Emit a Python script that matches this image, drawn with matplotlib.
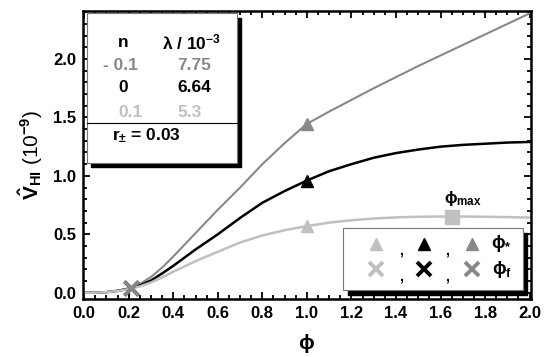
import matplotlib
matplotlib.use("Agg")
import matplotlib.pyplot as plt
from matplotlib.patches import Rectangle
from matplotlib.ticker import MultipleLocator

plt.rcParams['font.family'] = ['Liberation Sans', 'DejaVu Sans']
plt.rcParams['font.weight'] = 'bold'
plt.rcParams['mathtext.fontset'] = 'custom'
plt.rcParams['mathtext.rm'] = 'Liberation Sans:bold'
plt.rcParams['mathtext.bf'] = 'Liberation Sans:bold'
plt.rcParams['mathtext.it'] = 'Liberation Sans:bold'

# curves (phi, V_HI in 1e-9)
phi = [0.0, 0.05, 0.1, 0.15, 0.2, 0.25, 0.3, 0.35, 0.4, 0.5, 0.6, 0.7, 0.8, 0.9, 1.0,
       1.1, 1.2, 1.3, 1.4, 1.5, 1.6, 1.7, 1.8, 1.9, 2.0]
v_neg = [0.0, 0.0, 0.006, 0.018, 0.038, 0.075, 0.135, 0.215, 0.31, 0.51, 0.71, 0.90, 1.10, 1.28, 1.445,
         1.55, 1.65, 1.75, 1.845, 1.94, 2.03, 2.12, 2.21, 2.30, 2.39]
v_zero = [0.0, 0.0, 0.005, 0.016, 0.034, 0.062, 0.105, 0.165, 0.23, 0.37, 0.50, 0.64, 0.77, 0.87, 0.96,
          1.04, 1.10, 1.155, 1.195, 1.225, 1.25, 1.265, 1.275, 1.285, 1.29]
v_pos = [0.0, 0.0, 0.005, 0.015, 0.031, 0.054, 0.088, 0.13, 0.18, 0.27, 0.35, 0.43, 0.49, 0.535, 0.57,
         0.60, 0.62, 0.635, 0.645, 0.65, 0.652, 0.652, 0.65, 0.647, 0.643]

phi_star = 1.0
star_vals = [1.445, 0.96, 0.575]
phi_f = 0.21
f_vals = [0.04, 0.04, 0.04]
phi_max = 1.65
v_max = 0.645

n_vals = ['- 0.1', '0', '0.1']
lam_vals = ['7.75', '6.64', '5.3']
colors = ['#888888', '#000000', '#c0c0c0']

fig = plt.figure(figsize=(5.5, 3.57), dpi=100)
ax = fig.add_axes([0.151, 0.162, 0.814, 0.807])

for v, c, w in zip([v_neg, v_zero, v_pos], colors, [1.5, 1.8, 1.8]):
    ax.plot(phi, v, color=c, lw=w)
for s, c in zip(star_vals, colors):
    ax.plot(phi_star, s, marker='^', color=c, ms=8, ls='none')
for f, c in zip(f_vals[::-1], colors[::-1]):
    ax.plot(phi_f, f, marker='x', color=c, ms=10, mew=2.5, ls='none')
ax.plot(phi_max, v_max, marker='s', color='#c0c0c0', ms=9.5, ls='none')
ax.text(1.70, 0.81, r'$\phi_{\mathrm{max}}$', ha='center', va='center', fontsize=12)

ax.set_xlim(-0.005, 2.005)
ax.set_ylim(-0.055, 2.41)
ax.xaxis.set_major_locator(MultipleLocator(0.2))
ax.xaxis.set_minor_locator(MultipleLocator(0.05))
ax.yaxis.set_major_locator(MultipleLocator(0.5))
ax.yaxis.set_minor_locator(MultipleLocator(0.1))
ax.tick_params(which='both', direction='in', top=True, right=True, width=1.3)
ax.tick_params(which='major', length=5, labelsize=12, pad=5)
ax.tick_params(which='minor', length=3)
for sp in ax.spines.values():
    sp.set_linewidth(1.8)
ax.set_xlabel(r'$\phi$', fontsize=15, labelpad=8)
ax.set_ylabel(r'$\hat{\mathrm{V}}_{\mathrm{HI}}$ (10$^{-9}$)', fontsize=15, labelpad=6)

# top-left parameter box
ax.add_patch(Rectangle((0.018, 0.458), 0.335, 0.518, transform=ax.transAxes,
                       color='black', zorder=4))
ax.add_patch(Rectangle((0.009, 0.472), 0.335, 0.521, transform=ax.transAxes,
                       facecolor='white', edgecolor='#777777', lw=0.8, zorder=5))
ax.plot([0.009, 0.344], [0.611, 0.611], transform=ax.transAxes, color='black', lw=0.8, zorder=6)
ax.text(0.089, 0.892, 'n', transform=ax.transAxes, ha='center', va='center', fontsize=12.5, zorder=6)
ax.text(0.243, 0.892, r'$\lambda$ / 10$^{-3}$', transform=ax.transAxes, ha='center',
        va='center', fontsize=12.5, zorder=6)
n_x = [0.045, 0.078, 0.078]
rows_y = [0.8125, 0.733, 0.649]
for nv, lv, c, nx, yy in zip(n_vals, lam_vals, colors, n_x, rows_y):
    ax.text(nx, yy, nv, transform=ax.transAxes, ha='left', va='center',
            fontsize=12.5, color=c, zorder=6)
    ax.text(0.21, yy, lv, transform=ax.transAxes, ha='left', va='center',
            fontsize=12.5, color=c, zorder=6)
ax.text(0.065, 0.569, r'r$_{\pm}$ = 0.03', transform=ax.transAxes, ha='left',
        va='center', fontsize=12.5, zorder=6)

# bottom-right marker legend
ax.add_patch(Rectangle((0.592, 0.014), 0.399, 0.215, transform=ax.transAxes,
                       color='black', zorder=4))
ax.add_patch(Rectangle((0.580, 0.031), 0.402, 0.216, transform=ax.transAxes,
                       facecolor='white', edgecolor='#777777', lw=0.8, zorder=5))
for xx, c in zip([0.655, 0.762, 0.868], colors[::-1]):
    ax.plot(xx, 0.193, marker='^', color=c, ms=9, transform=ax.transAxes, zorder=6, clip_on=False)
    ax.plot(xx, 0.103, marker='x', color=c, ms=10, mew=2.8, transform=ax.transAxes,
            zorder=6, clip_on=False)
for xx in [0.709, 0.813]:
    for yy in [0.193, 0.103]:
        ax.text(xx, yy - 0.025, ',', transform=ax.transAxes, ha='center', va='center',
                fontsize=10, zorder=6)
ax.text(0.935, 0.193, r'$\phi_{*}$', transform=ax.transAxes, ha='center', va='center',
        fontsize=13, zorder=6)
ax.text(0.935, 0.103, r'$\phi_{\mathrm{f}}$', transform=ax.transAxes, ha='center',
        va='center', fontsize=13, zorder=6)

fig.savefig('out.png', dpi=100)
